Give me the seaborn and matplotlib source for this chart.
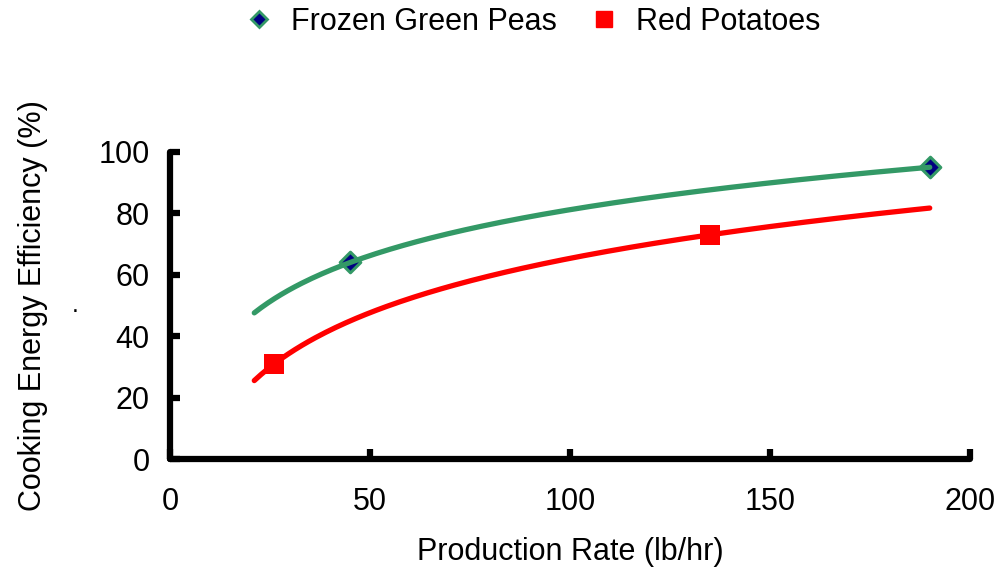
import numpy as np
import pandas as pd
import matplotlib
matplotlib.use("Agg")
import matplotlib.pyplot as plt
import seaborn as sns
from matplotlib.lines import Line2D

# ---- data ----
peas_x = [45, 190]
peas_y = [64, 95]
potato_x = [26, 135]
potato_y = [31, 73]
trend_start = 21
trend_end = 190
x_ticks = [0, 50, 100, 150, 200]
y_ticks = [0, 20, 40, 60, 80, 100]
series_names = ["Frozen Green Peas", "Red Potatoes"]

GREEN = "#339966"
RED = "#ff0000"
NAVY = "#000080"

sns.set_theme(style="white")
plt.rcParams['font.family'] = ['Liberation Sans', 'DejaVu Sans']
plt.rcParams['text.color'] = 'black'

fig = plt.figure(figsize=(10.08, 5.71), dpi=100)
ax = fig.add_axes([0.169, 0.196, 0.793, 0.538])

# logarithmic trendlines fitted from the data (as in the original)
tx = np.linspace(trend_start, trend_end, 200)
def log_fit(xs, ys):
    a, b = np.polyfit(np.log(xs), ys, 1)
    return a * np.log(tx) + b

df_p = pd.DataFrame({"x": peas_x, "y": peas_y})
df_r = pd.DataFrame({"x": potato_x, "y": potato_y})

sns.scatterplot(data=df_p, x="x", y="y", ax=ax, marker="D", s=110,
                color=NAVY, edgecolor=GREEN, linewidth=2.2, zorder=2, legend=False)
sns.scatterplot(data=df_r, x="x", y="y", ax=ax, marker="s", s=190,
                color=RED, edgecolor=RED, linewidth=0, zorder=4, legend=False)

trend_p = pd.DataFrame({"x": tx, "y": log_fit(peas_x, peas_y)})
trend_r = pd.DataFrame({"x": tx, "y": log_fit(potato_x, potato_y)})
sns.lineplot(data=trend_p, x="x", y="y", ax=ax, color=GREEN, linewidth=3.8,
             zorder=3, legend=False, solid_capstyle="round")
sns.lineplot(data=trend_r, x="x", y="y", ax=ax, color=RED, linewidth=3.8,
             zorder=3, legend=False, solid_capstyle="round")

ax.set_xlim(0, 200)
ax.set_ylim(0, 100)
ax.set_xticks(x_ticks)
ax.set_yticks(y_ticks)
ax.set_xticklabels([str(t) for t in x_ticks])
ax.set_yticklabels([str(t) for t in y_ticks])

for side in ["top", "right"]:
    ax.spines[side].set_visible(False)
for side in ["left", "bottom"]:
    ax.spines[side].set_linewidth(4.5)
    ax.spines[side].set_color("black")
    ax.spines[side].set_capstyle("round")

ax.tick_params(axis="both", which="major", bottom=True, left=True,
               direction="in", length=7, width=4.5, color="black",
               labelsize=22, labelcolor="black")
ax.tick_params(axis="y", pad=15)
ax.tick_params(axis="x", pad=20)

ax.set_xlabel("Production Rate (lb/hr)", fontsize=22, color="black")
ax.set_ylabel("Cooking Energy Efficiency (%)", fontsize=22, color="black")
ax.xaxis.set_label_coords(0.5, -0.303)
ax.xaxis.label.set_va("center")
ax.yaxis.set_label_coords(-0.172, 0.5)
ax.yaxis.label.set_va("center")
ax.grid(False)
ax.set_facecolor("white")

fig.text(0.075, 0.465, ".", fontsize=18, ha="center", va="center", color="black")

handles = [
    Line2D([], [], linestyle="none", marker="D", markersize=8,
           markerfacecolor=NAVY, markeredgecolor=GREEN, markeredgewidth=2),
    Line2D([], [], linestyle="none", marker="s", markersize=11,
           markerfacecolor=RED, markeredgecolor=RED),
]
fig.legend(handles, series_names, loc="center", bbox_to_anchor=(0.528, 0.962),
           ncol=2, frameon=False, fontsize=22, handletextpad=0.55,
           columnspacing=1.05, handlelength=1.0, labelcolor="black")

fig.savefig("out.png", dpi=100, facecolor="white")
